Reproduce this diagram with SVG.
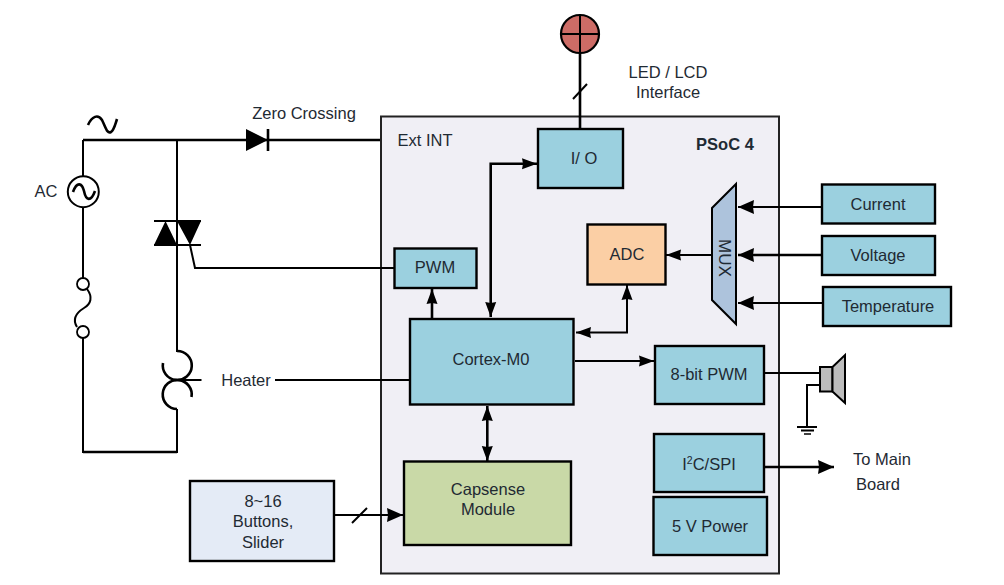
<svg xmlns="http://www.w3.org/2000/svg" width="1004" height="585" viewBox="0 0 1004 585">
<style>
text{font-family:"Liberation Sans",Arial,sans-serif;font-size:16.5px;fill:#1f2a33;text-anchor:middle}
.b{fill:#9bd0df;stroke:#000;stroke-width:2.4}
.l{fill:none;stroke:#000;stroke-width:2}
.t{fill:none;stroke:#000;stroke-width:2.6}
.f{fill:#000;stroke:none}
</style>
<defs>
<marker id="a" markerUnits="userSpaceOnUse" markerWidth="17" markerHeight="15" refX="16" refY="7.500" orient="auto-start-reverse"><path d="M0 0.500L16 7.500L0 14.500L1 7.500Z" fill="#000"/></marker>
<marker id="s" markerUnits="userSpaceOnUse" markerWidth="16" markerHeight="12" refX="15" refY="6" orient="auto-start-reverse"><path d="M0 0.500L15 6L0 11.500L1 6Z" fill="#000"/></marker>
</defs>
<rect width="1004" height="585" fill="#fff"/>
<g id="psoc"><rect x="381" y="116.500" width="398" height="457" fill="#f0eff5" stroke="#222" stroke-width="2"/><text x="725" y="150" style="font-weight:700">PSoC 4</text><text x="425" y="146">Ext INT</text></g>
<g id="connectors">
<path class="t" d="M83 140H380"/>
<path class="l" d="M83 140V177M83 208V280M83 336V452H177V409M177 140V352"/>
<path class="t" d="M83 452H177"/>
<path class="l" d="M190 245L195 268H394"/>
<path class="l" d="M275 380H410"/>
<path class="t" d="M580 53V129"/><path class="l" d="M573 99L587 84"/>
<path class="t" marker-start="url(#s)" marker-end="url(#s)" d="M490.700 317V163.700H537"/>
<path class="t" marker-end="url(#s)" d="M432 319V289"/>
<path class="l" marker-start="url(#s)" marker-end="url(#s)" d="M576 332.500H627V285"/>
<path class="l" marker-end="url(#s)" d="M711 255H666"/>
<path class="l" marker-end="url(#a)" d="M822 207H738"/>
<path class="t" marker-end="url(#a)" d="M822 255H738"/>
<path class="l" marker-end="url(#a)" d="M823 303H738"/>
<path class="l" marker-end="url(#s)" d="M575 361H654"/>
<path class="t" marker-start="url(#s)" marker-end="url(#s)" d="M487.300 406V461"/>
<path class="l" d="M765 373H820M820 385H807V427"/>
<path class="t" marker-end="url(#a)" d="M765 467H834"/>
<path class="l" marker-end="url(#a)" d="M334 515H403"/><path class="l" d="M352 523L367 508"/>
</g>
<g id="ac-line"><path class="t" d="M88 125C92 116 98 114 102 120C106 128 107 134 111 132C114 130 115 125 117 119"/><text x="46" y="197">AC</text></g>
<g id="ac-source"><circle cx="83.300" cy="191.700" r="15.500" fill="#fff" stroke="#000" stroke-width="2"/><path class="t" d="M73 192C77 181 82 183 84 191C86 201 91 202 95 191"/></g>
<g id="fuse"><circle cx="83" cy="284" r="6" fill="#fff" stroke="#000" stroke-width="1.800"/><circle cx="83" cy="332" r="6" fill="#fff" stroke="#000" stroke-width="1.800"/><path class="l" d="M87 289C93 297 91 304 84 308C76 313 72 319 77 327"/></g>
<g id="zero-crossing"><path class="f" d="M246 129L268 140L246 151Z"/><path class="t" d="M268 129V151"/><text x="304" y="119">Zero Crossing</text></g>
<g id="triac"><path class="f" d="M154 245L165.500 221L177 245ZM177 221H201L190 245Z"/><path class="l" d="M154 221H201M154 245H201"/></g>
<g id="heater"><path class="t" d="M177 351A14.500 14.500 0 1 1 163 363"/><path class="t" d="M177 409A14.500 14.500 0 1 1 191.500 397"/><path class="l" d="M177 380H201.500"/><text x="246" y="386">Heater</text></g>
<g id="led"><circle cx="580" cy="34" r="19" fill="#cd6c66" stroke="#000" stroke-width="2.200"/><path class="l" d="M580 15V53M561 34H599"/><text x="668" y="78">LED / LCD</text><text x="668" y="98">Interface</text></g>
<g id="io"><rect class="b" x="538" y="129" width="85" height="59"/><text x="584" y="164">I/ O</text></g>
<g id="pwm"><rect class="b" x="394.500" y="248.500" width="82" height="39.500"/><text x="435" y="273">PWM</text></g>
<g id="adc"><rect x="587.500" y="224.500" width="78" height="60" fill="#fbcfa5" stroke="#000" stroke-width="2.400"/><text x="627" y="260">ADC</text></g>
<g id="mux"><path d="M712 208L736 184V324L712 300Z" fill="#adc3dc" stroke="#000" stroke-width="2"/><text transform="translate(718.500 258) rotate(90)" style="font-size:17px">MUX</text></g>
<g id="cortex"><rect class="b" x="410" y="319" width="163.500" height="85.500"/><text x="491" y="365">Cortex-M0</text></g>
<g id="pwm8"><rect class="b" x="655" y="346" width="109" height="58"/><text x="709" y="380">8-bit PWM</text></g>
<g id="capsense"><rect x="404" y="461.500" width="167" height="83.500" fill="#c9d9a7" stroke="#000" stroke-width="2.400"/><text x="488" y="495">Capsense</text><text x="488" y="515">Module</text></g>
<g id="i2c"><rect class="b" x="654" y="434" width="110" height="58"/><text x="709" y="470">I<tspan dy="-6" style="font-size:10.500px">2</tspan><tspan dy="6">C/SPI</tspan></text></g>
<g id="power"><rect class="b" x="653.500" y="497" width="113.500" height="58"/><text x="710" y="532">5 V Power</text></g>
<g id="current"><rect class="b" x="822" y="184.500" width="113" height="39"/><text x="878" y="210">Current</text></g>
<g id="voltage"><rect class="b" x="822" y="236" width="113" height="39"/><text x="878" y="261">Voltage</text></g>
<g id="temperature"><rect class="b" x="823" y="287" width="128" height="39"/><text x="888" y="312">Temperature</text></g>
<g id="buttons"><rect x="190" y="481" width="144" height="80" fill="#e4ebf6" stroke="#000" stroke-width="2.400"/><text x="263" y="507">8~16</text><text x="263" y="527">Buttons,</text><text x="263" y="548">Slider</text></g>
<g id="speaker"><rect x="820" y="367" width="12.500" height="24.500" fill="#bdbdbd" stroke="#000" stroke-width="2"/><path d="M832.500 367L845 355V403L832.500 391.500Z" fill="#bdbdbd" stroke="#000" stroke-width="2"/><path class="l" d="M797 427H817M801 430.500H814"/><path d="M804 434H811" stroke="#000" stroke-width="1.500"/></g>
<g id="main-board"><text x="882" y="465">To Main</text><text x="878" y="490">Board</text></g>
</svg>
